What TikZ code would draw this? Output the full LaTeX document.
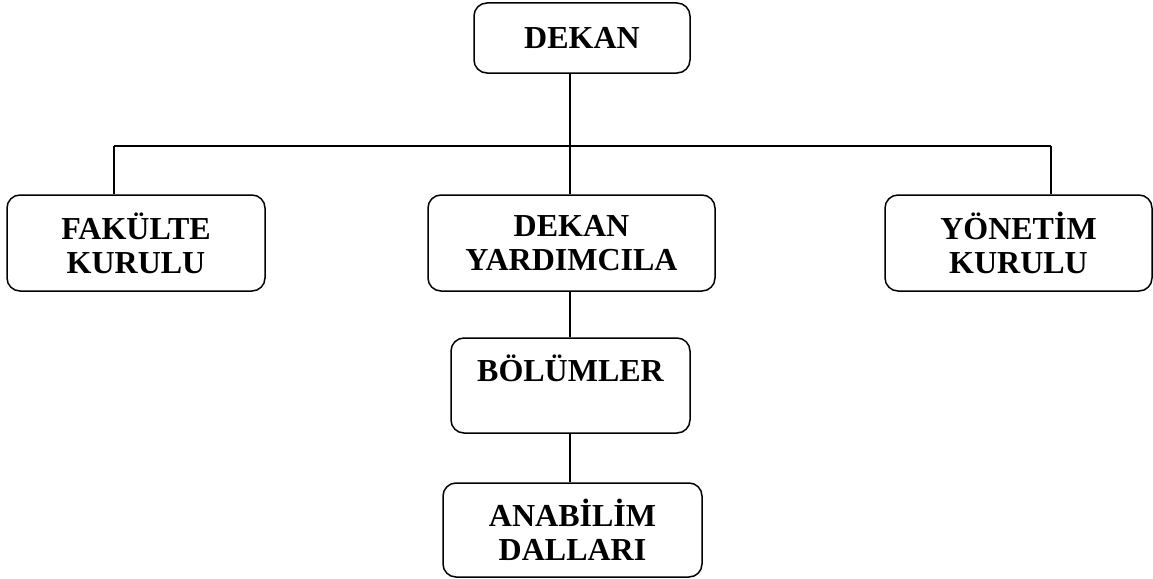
\documentclass[tikz,border=0pt]{standalone}
\usepackage{fontspec}
\setmainfont{Liberation Serif}
\usepackage{tikz}

\begin{document}
\begin{tikzpicture}[x=1pt,y=-1pt,line width=1.5pt]
 \useasboundingbox (0,0) rectangle (1153,578);
 \begin{scope}[every node/.style={draw, rounded corners=13pt, align=center,
     font=\fontsize{32}{34}\selectfont\bfseries, inner sep=0pt}]
   \node (dekan) [minimum width=216, minimum height=70] at (582,38) {DEKAN};
   \node (fak) [minimum width=258, minimum height=96] at (136,243) {FAKÜLTE\\KURULU};
   \node (dy) [minimum width=287, minimum height=96] at (571.5,243) {DEKAN\\YARDIMCILA};
   \node (yon) [minimum width=267, minimum height=96] at (1018.5,243) {YÖNETİM\\KURULU};
   \node (bol) [minimum width=239, minimum height=95] at (570.5,385.5) {BÖLÜMLER\\\mbox{}};
   \node (ana) [minimum width=259, minimum height=94] at (572.5,530) {ANABİLİM\\DALLARI};
 \end{scope}
 \coordinate (top) at (570,73);
 \coordinate (busL) at (114,146);
 \coordinate (busR) at (1051,146);
 \draw (top) -- (top |- dy.north);
 \draw (busL) -- (busR);
 \draw (busL) -- (busL |- fak.north);
 \draw (busR) -- (busR |- yon.north);
 \draw (top |- dy.south) -- (top |- bol.north);
 \draw (top |- bol.south) -- (top |- ana.north);
\end{tikzpicture}
\end{document}
